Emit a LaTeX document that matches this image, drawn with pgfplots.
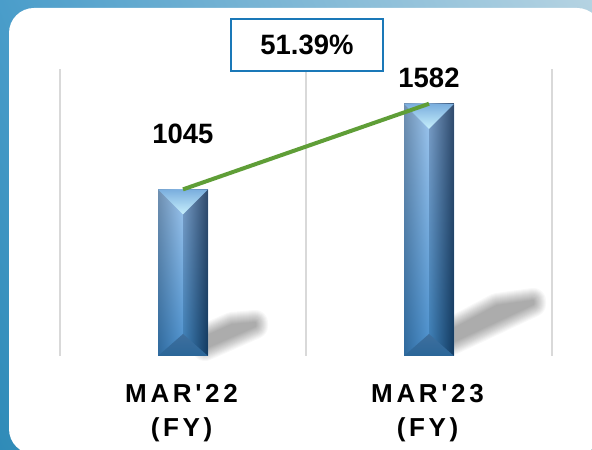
\documentclass[border=0pt]{standalone}
\usepackage{fontspec}
\usepackage{pgfplots}
\pgfplotsset{compat=1.18}
\usetikzlibrary{shadings}
\newfontfamily\lab[FakeStretch=0.98]{Liberation Sans Bold}
\newfontfamily\tic[LetterSpace=14]{Liberation Sans Bold}
\definecolor{grn}{HTML}{5F9E37}
\definecolor{boxblue}{HTML}{1A78B8}
\definecolor{gridc}{HTML}{D9D9D9}
\definecolor{barbase}{HTML}{4A86BE}
\definecolor{la}{HTML}{2F6A9E}
\definecolor{lb}{HTML}{6F8FB0}
\definecolor{lc}{HTML}{4A8FCC}
\definecolor{ld}{HTML}{A0C8F0}
\definecolor{ra}{HTML}{3A7DB5}
\definecolor{rb}{HTML}{7A9CC4}
\definecolor{rc}{HTML}{123A60}
\definecolor{rd}{HTML}{2F4A6C}
\definecolor{ta}{HTML}{7AAEDE}
\definecolor{tb}{HTML}{C8F0FC}
\definecolor{ba}{HTML}{3F6F9E}
\definecolor{bb}{HTML}{2A6698}
\definecolor{bga}{HTML}{2F8BB8}
\definecolor{bgb}{HTML}{4A9DCA}
\definecolor{bgc}{HTML}{8FC0C0}
\definecolor{bgd}{HTML}{B5D3E2}
% one bevelled bar over the plain ybar: centre, value, left, right, bevel tip
\newcommand{\bevelbar}[5]{
  \shade[lower left=la,upper left=lb,lower right=lc,upper right=ld]
    (axis cs:#3,0) rectangle (axis cs:#1,#2);
  \shade[lower left=ra,upper left=rb,lower right=rc,upper right=rd]
    (axis cs:#1,0) rectangle (axis cs:#4,#2);
  \shade[top color=ta,bottom color=tb]
    (axis cs:#3,#2) -- (axis cs:#4,#2) -- (axis cs:#1,#5) -- cycle;
  \shade[top color=ba,bottom color=bb]
    (axis cs:#3,0) -- (axis cs:#4,0) -- (axis cs:#1,138) -- cycle;
}
\newcommand{\blurshadow}[1]{
  \foreach \w in {26,24,22,20,18,16,14,12,10,8,6,4,2} {
    \begin{scope}[transparency group,opacity=0.028]
      \filldraw[black,line width=\w pt,line join=round] #1;
    \end{scope}
  }
}
\begin{document}
\begin{tikzpicture}[x=1pt,y=1pt]
\clip (0,0) rectangle (592,450);
\shade[lower left=bga,upper left=bgb,lower right=bgc,upper right=bgd]
  (0,0) rectangle (592,450);
\fill[white,rounded corners=25pt] (9,-4) rectangle (602,442);
\blurshadow{(205,113) -- (205,102) -- (255,124) -- (255,127) -- (232,125) -- cycle}
\blurshadow{(452,120) -- (452,108) -- (533,146) -- (533,149) -- (497,144) -- cycle}
\begin{axis}[
  at={(60pt,94pt)},anchor=south west,
  scale only axis,width=492pt,height=287pt,
  xmin=-0.5,xmax=1.5,ymin=0,ymax=1800,
  axis line style={draw=none},
  clip=false,
  xtick={0,1},
  xticklabels={{MAR'22\\(FY)},{MAR'23\\(FY)}},
  minor xtick={-0.5,0.5,1.5},
  xminorgrids=true,
  minor grid style={gridc,line width=1.5pt},
  minor tick length=0pt,
  major tick length=0pt,
  ytick=\empty,
  xticklabel style={align=center,font=\tic\fontsize{26}{34}\selectfont,text=black,yshift=-25pt,xshift=-1.5pt},
]
\addplot[ybar,bar width=50pt,fill=barbase,draw=none] coordinates {(0,1045) (1,1582)};
\bevelbar{0}{1045}{-0.1016}{0.1016}{888}
\bevelbar{1}{1582}{0.8984}{1.1016}{1425}
\addplot[grn,line width=4pt,mark=none] coordinates {(0,1045) (1,1582)};
\node[font=\lab\fontsize{28}{28}\selectfont] at (axis cs:0,1392) {1045};
\node[font=\lab\fontsize{28}{28}\selectfont] at (axis cs:1,1743) {1582};
\end{axis}
\node[draw=boxblue,line width=1.6pt,fill=white,minimum width=152pt,minimum height=52pt,inner sep=0pt,
  font=\lab\fontsize{28}{28}\selectfont] at (307,405) {51.39\%};
\end{tikzpicture}
\end{document}
